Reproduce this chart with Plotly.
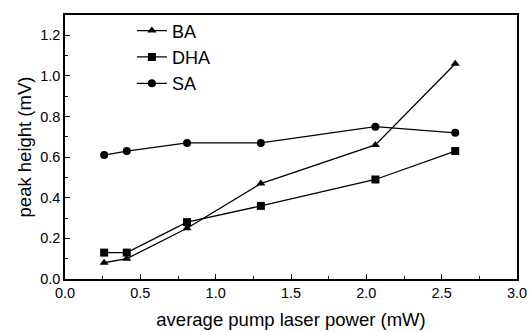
import plotly.graph_objects as go

power = [0.26, 0.41, 0.81, 1.30, 2.06, 2.59]
ba = [0.08, 0.10, 0.25, 0.47, 0.66, 1.06]
dha = [0.13, 0.13, 0.28, 0.36, 0.49, 0.63]
sa = [0.61, 0.63, 0.67, 0.67, 0.75, 0.72]

series = [("BA", ba, "triangle-up"), ("DHA", dha, "square"), ("SA", sa, "circle")]

FONT = "Liberation Sans, Arial"

fig = go.Figure()
for name, vals, sym in series:
    fig.add_trace(go.Scatter(
        x=power, y=vals, name=name, mode="lines+markers",
        line=dict(color="black", width=1.3),
        marker=dict(symbol=sym, size=8, color="black"),
    ))

axis_common = dict(
    showline=True, linecolor="black", linewidth=1.5, mirror=True,
    ticks="inside", ticklen=5, tickwidth=1, tickcolor="black",
    showgrid=False, zeroline=False, automargin=False,
    tickfont=dict(family=FONT, size=14.5, color="black"),
)

fig.update_xaxes(
    range=[0, 3.0], dtick=0.5, tickformat=".1f",
    minor=dict(ticks="inside", ticklen=3, dtick=0.25, tickcolor="black"),
    title=dict(text="average pump laser power (mW)",
               font=dict(family=FONT, size=18.5, color="black"),
               standoff=13),
    **axis_common,
)
fig.update_yaxes(
    range=[0, 1.3], dtick=0.2, tickformat=".1f",
    minor=dict(ticks="inside", ticklen=3, dtick=0.1, tickcolor="black"),
    title=dict(text="peak height (mV)",
               font=dict(family=FONT, size=18.5, color="black"),
               standoff=4),
    ticklabelstandoff=0,
    **axis_common,
)

fig.update_layout(
    width=530, height=332,
    margin=dict(l=65, r=13, t=13, b=53),
    paper_bgcolor="white", plot_bgcolor="white",
    showlegend=True,
    legend=dict(x=0.148, y=1.01, xanchor="left", yanchor="top",
                bgcolor="rgba(0,0,0,0)", borderwidth=0,
                font=dict(family=FONT, size=18, color="black"),
                tracegroupgap=0),
)

fig.write_html("out.html")
